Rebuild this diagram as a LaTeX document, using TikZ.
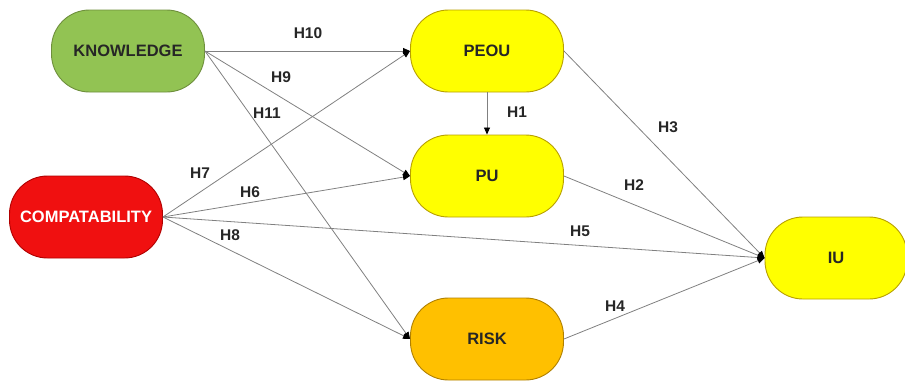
\documentclass[tikz,border=0pt]{standalone}
\usepackage{fontspec}
\setmainfont{Liberation Sans}
\usetikzlibrary{arrows.meta}
\definecolor{kgreen}{HTML}{92C353}
\definecolor{kgreenb}{HTML}{6E8F3C}
\definecolor{cred}{HTML}{F01010}
\definecolor{credb}{HTML}{B00000}
\definecolor{yfill}{HTML}{FFFF00}
\definecolor{yborder}{HTML}{B8A000}
\definecolor{ofill}{HTML}{FFC000}
\definecolor{oborder}{HTML}{B08000}
\definecolor{lgrey}{HTML}{808080}
\tikzset{
  construct/.style={draw, line width=0.9pt, rounded corners=38pt, minimum width=153pt, minimum height=82pt, inner sep=0pt, font=\fontsize{16.5}{18}\selectfont\bfseries, text=black!85},
  lbl/.style={font=\fontsize{15.5}{17}\selectfont\bfseries, text=black!85, inner sep=1pt},
  conn/.style={draw=lgrey, line width=0.8pt, -{Triangle[length=7pt,width=6pt,color=black]}}
}
\begin{document}
\begin{tikzpicture}[x=1pt,y=-1pt]
\useasboundingbox (0,0) rectangle (905,381);
\node[construct, fill=kgreen, draw=kgreenb] (kn) at (128,51) {KNOWLEDGE};
\node[construct, fill=cred, draw=credb, text=white] (co) at (86,217) {COMPATABILITY};
\node[construct, fill=yfill, draw=yborder] (pe) at (487,51) {PEOU};
\node[construct, fill=yfill, draw=yborder] (pu) at (487,176) {PU};
\node[construct, fill=ofill, draw=oborder] (ri) at (487,339) {RISK};
\node[construct, fill=yfill, draw=yborder, minimum width=142pt] (iu) at (836,258) {IU};

\draw[conn] (kn.east) -- (pe.west);
\draw[conn] (kn.east) -- (pu.west);
\draw[conn] (kn.east) -- (ri.west);
\draw[conn] (co.east) -- (pe.west);
\draw[conn] (co.east) -- (pu.west);
\draw[conn] (co.east) -- (iu.west);
\draw[conn] (co.east) -- (ri.west);
\draw[conn] (pe.south) -- (pu.north);
\draw[conn] (pe.east) -- (iu.west);
\draw[conn] (pu.east) -- (iu.west);
\draw[conn] (ri.east) -- (iu.west);

\node[lbl] (h10) at (308,33) {H10};
\node[lbl] (h9) at (281,77) {H9};
\node[lbl] (h11) at (267,113) {H11};
\node[lbl] (h7) at (200,173) {H7};
\node[lbl] (h6) at (250,192) {H6};
\node[lbl] (h8) at (230,235) {H8};
\node[lbl] (h1) at (517,112) {H1};
\node[lbl] (h3) at (668,127) {H3};
\node[lbl] (h2) at (634,185) {H2};
\node[lbl] (h5) at (580,231) {H5};
\node[lbl] (h4) at (615,306) {H4};
\end{tikzpicture}
\end{document}
